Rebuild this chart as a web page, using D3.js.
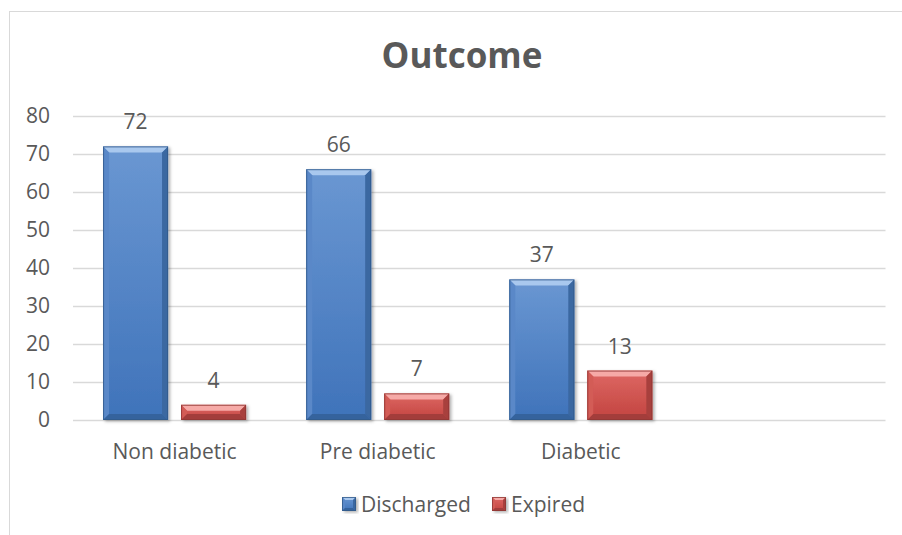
<!DOCTYPE html>
<html>
<head>
<meta charset="utf-8">
<script src="https://cdn.jsdelivr.net/npm/d3@7"></script>
<style>
  html, body { margin: 0; padding: 0; background: #ffffff; }
  svg { display: block; }
  text { font-family: "Open Sans", "Liberation Sans", sans-serif; fill: #595959; }
</style>
</head>
<body>
<svg id="chart" width="902" height="535"></svg>
<script>
// Chart data
const title = "Outcome";
const categories = ["Non diabetic", "Pre diabetic", "Diabetic", ""];
const seriesNames = ["Discharged", "Expired"];
const discharged = [72, 66, 37, null];
const expired = [4, 7, 13, null];
const yTicks = [0, 10, 20, 30, 40, 50, 60, 70, 80];

// Bevel palettes for each series
const palettes = {
  Discharged: { top: "#a9c8ee", bodyTop: "#6a97d2", bodyBottom: "#3f73ba",
                left: "#5a88c8", right: "#3a67a1", bottom: "#35639d", stroke: "#31598a" },
  Expired:    { top: "#f6aaa7", bodyTop: "#de6864", bodyBottom: "#c2433f",
                left: "#d35b57", right: "#a8413e", bottom: "#a33d3a", stroke: "#8f3633" }
};

const svg = d3.select("#chart");
const plot = { left: 73, right: 885.5, top: 116, bottom: 420 };
const fontSize = "21px";

const defs = svg.append("defs");
seriesNames.forEach((s, i) => {
  const g = defs.append("linearGradient").attr("id", "grad" + i)
    .attr("x1", 0).attr("y1", 0).attr("x2", 0).attr("y2", 1);
  g.append("stop").attr("offset", "0%").attr("stop-color", palettes[s].bodyTop);
  g.append("stop").attr("offset", "100%").attr("stop-color", palettes[s].bodyBottom);
});
const shadow = defs.append("filter").attr("id", "shadow")
  .attr("x", "-20%").attr("y", "-20%").attr("width", "140%").attr("height", "140%");
shadow.append("feDropShadow").attr("dx", 2).attr("dy", 1.5)
  .attr("stdDeviation", 1.5).attr("flood-color", "#000").attr("flood-opacity", 0.3);

// Chart frame
svg.append("rect").attr("x", 9.5).attr("y", 11.5).attr("width", 1000).attr("height", 1000)
  .attr("fill", "#ffffff").attr("stroke", "#d9d9d9").attr("stroke-width", 1);

// Title
svg.append("text").attr("x", 462).attr("y", 68).attr("text-anchor", "middle")
  .style("font-size", "35px").style("font-weight", "700").text(title);

// Scales
const x0 = d3.scaleBand().domain(categories).range([plot.left, plot.right]).padding(0);
const groupWidth = 143;
const x1 = d3.scaleBand().domain(seriesNames)
  .range([(x0.bandwidth() - groupWidth) / 2, (x0.bandwidth() + groupWidth) / 2])
  .paddingInner(13 / 78).paddingOuter(0);
const y = d3.scaleLinear().domain([0, 80]).range([plot.bottom, plot.top]);

// Y axis with gridlines
const yAxis = svg.append("g").attr("transform", `translate(${plot.left},0)`)
  .call(d3.axisLeft(y).tickValues(yTicks).tickSize(-(plot.right - plot.left)).tickPadding(23));
yAxis.select(".domain").remove();
yAxis.selectAll(".tick line").attr("stroke", "#d9d9d9").attr("stroke-width", 1.4);
yAxis.selectAll(".tick text").style("font-size", fontSize).attr("fill", "#595959")
  .attr("font-family", null);

// X axis labels
const xAxis = svg.append("g").attr("transform", `translate(0,${plot.bottom})`)
  .call(d3.axisBottom(x0).tickSize(0).tickPadding(0));
xAxis.select(".domain").remove();
xAxis.selectAll(".tick text").style("font-size", fontSize).attr("fill", "#595959")
  .attr("font-family", null).attr("dy", null).attr("y", 39);

// Bevelled bar drawing
function bevelBar(g, x, yTop, w, h, pal, gradId, b) {
  b = Math.min(b, h / 2, w / 2);
  const grp = g.append("g").attr("filter", "url(#shadow)");
  grp.append("rect").attr("x", x).attr("y", yTop).attr("width", w).attr("height", h)
    .attr("fill", `url(#${gradId})`);
  const poly = (pts, fill) => grp.append("polygon")
    .attr("points", pts.map(p => p.join(",")).join(" ")).attr("fill", fill);
  const x2 = x + w, y2 = yTop + h;
  poly([[x, yTop], [x2, yTop], [x2 - b, yTop + b], [x + b, yTop + b]], pal.top);
  poly([[x, yTop], [x + b, yTop + b], [x + b, y2 - b], [x, y2]], pal.left);
  poly([[x2, yTop], [x2, y2], [x2 - b, y2 - b], [x2 - b, yTop + b]], pal.right);
  poly([[x, y2], [x2, y2], [x2 - b, y2 - b], [x + b, y2 - b]], pal.bottom);
  grp.append("rect").attr("x", x + 0.5).attr("y", yTop + 0.5)
    .attr("width", w - 1).attr("height", h - 1)
    .attr("fill", "none").attr("stroke", pal.stroke).attr("stroke-width", 1).attr("stroke-opacity", 0.8);
}

const seriesValues = { Discharged: discharged, Expired: expired };
const barsG = svg.append("g");
const labelsG = svg.append("g");
categories.forEach((c, ci) => {
  seriesNames.forEach((s, si) => {
    const v = seriesValues[s][ci];
    if (v == null) return;
    const bx = x0(c) + x1(s);
    const by = y(v);
    bevelBar(barsG, bx, by, x1.bandwidth(), y(0) - by, palettes[s], "grad" + si, 6);
    labelsG.append("text").attr("x", bx + x1.bandwidth() / 2).attr("y", by - 17)
      .attr("text-anchor", "middle").style("font-size", fontSize).text(v);
  });
});

// Legend
const legendItems = [
  { name: seriesNames[0], sx: 342, tx: 361 },
  { name: seriesNames[1], sx: 492, tx: 511 }
];
const legendG = svg.append("g");
legendItems.forEach((item, i) => {
  bevelBar(legendG, item.sx, 497, 14, 14, palettes[item.name], "grad" + i, 3);
  legendG.append("text").attr("x", item.tx).attr("y", 511.5)
    .style("font-size", fontSize).text(item.name);
});
</script>
</body>
</html>
